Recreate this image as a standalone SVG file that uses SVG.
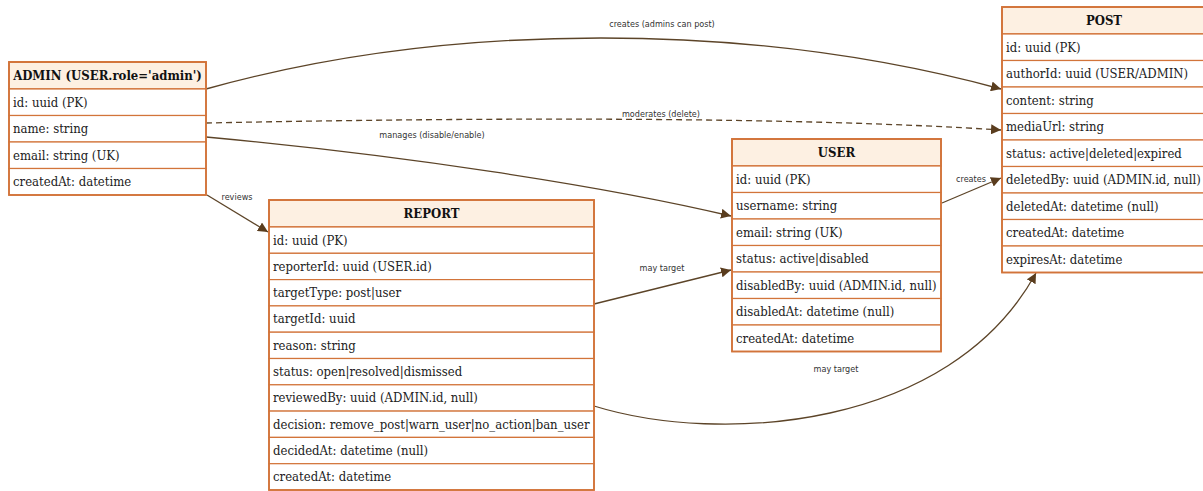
<svg xmlns="http://www.w3.org/2000/svg" width="1203" height="491" viewBox="0 0 1203 491">
<style>
.box{fill:#ffffff;stroke:#d2743a;stroke-width:1.6}
.hdr{fill:#fdf0e2;stroke:#d2743a;stroke-width:1.6}
.row{fill:#ffffff;stroke:#d2743a;stroke-width:1.2}
.t{font-family:"DejaVu Serif Condensed","DejaVu Serif",serif;font-stretch:condensed;font-size:13px;fill:#222}
.h{font-family:"DejaVu Serif Condensed","DejaVu Serif",serif;font-stretch:condensed;font-size:13px;font-weight:bold;fill:#111;text-anchor:middle}
.lbl{font-family:"DejaVu Sans Condensed","DejaVu Sans",sans-serif;font-stretch:condensed;font-size:9px;fill:#333;text-anchor:middle}
.c{fill:none;stroke:#5c4428;stroke-width:1.3}
.d{stroke-dasharray:6 4}
</style>
<defs>
<marker id="ah" viewBox="0 0 10 10" refX="10" refY="5" markerWidth="10" markerHeight="10" markerUnits="userSpaceOnUse" orient="auto">
<path d="M0,0 L10,5 L0,10 z" fill="#5a3d1e"/>
</marker>
</defs>

<g id="connectors">
<path class="c" d="M206,89 C450,21 750,21 1001,89" marker-end="url(#ah)"/>
<path class="c d" d="M206,123 C500,117 800,117 1001,130" marker-end="url(#ah)"/>
<path class="c" d="M206,137 C400,155 600,185 731,216" marker-end="url(#ah)"/>
<path class="c" d="M207,195 L268,232" marker-end="url(#ah)"/>
<path class="c" d="M594,304 L731,270" marker-end="url(#ah)"/>
<path class="c" d="M594,406 C720,445 950,430 1036,273" marker-end="url(#ah)"/>
<path class="c" d="M942,203 L1001,178" marker-end="url(#ah)"/>
<text class="lbl" x="662" y="27">creates (admins can post)</text>
<text class="lbl" x="661" y="117">moderates (delete)</text>
<text class="lbl" x="432" y="138">manages (disable/enable)</text>
<text class="lbl" x="237" y="200">reviews</text>
<text class="lbl" x="971" y="182">creates</text>
<text class="lbl" x="662" y="271">may target</text>
<text class="lbl" x="836" y="372">may target</text>
</g>

<g id="admin">
<rect class="hdr" x="9" y="62" width="197" height="27"/>
<rect class="row" x="9" y="89" width="197" height="26.5"/>
<rect class="row" x="9" y="115.5" width="197" height="26.5"/>
<rect class="row" x="9" y="142" width="197" height="26.5"/>
<rect class="row" x="9" y="168.5" width="197" height="26.5"/>
<rect x="9" y="62" width="197" height="133" fill="none" stroke="#d2743a" stroke-width="1.8"/>
<text class="h" x="107.5" y="80">ADMIN (USER.role='admin')</text>
<text class="t" x="13" y="106.5">id: uuid (PK)</text>
<text class="t" x="13" y="133">name: string</text>
<text class="t" x="13" y="159.5">email: string (UK)</text>
<text class="t" x="13" y="186">createdAt: datetime</text>
</g>

<g id="report">
<rect class="hdr" x="269" y="200" width="325" height="27"/>
<rect class="row" x="269" y="227" width="325" height="26.3"/>
<rect class="row" x="269" y="253.3" width="325" height="26.3"/>
<rect class="row" x="269" y="279.6" width="325" height="26.3"/>
<rect class="row" x="269" y="305.9" width="325" height="26.3"/>
<rect class="row" x="269" y="332.2" width="325" height="26.3"/>
<rect class="row" x="269" y="358.5" width="325" height="26.3"/>
<rect class="row" x="269" y="384.8" width="325" height="26.3"/>
<rect class="row" x="269" y="411.1" width="325" height="26.3"/>
<rect class="row" x="269" y="437.4" width="325" height="26.3"/>
<rect class="row" x="269" y="463.7" width="325" height="26.3"/>
<rect x="269" y="200" width="325" height="290" fill="none" stroke="#d2743a" stroke-width="1.8"/>
<text class="h" x="431.5" y="218">REPORT</text>
<text class="t" x="273" y="244.5">id: uuid (PK)</text>
<text class="t" x="273" y="270.8">reporterId: uuid (USER.id)</text>
<text class="t" x="273" y="297.1">targetType: post|user</text>
<text class="t" x="273" y="323.4">targetId: uuid</text>
<text class="t" x="273" y="349.7">reason: string</text>
<text class="t" x="273" y="376">status: open|resolved|dismissed</text>
<text class="t" x="273" y="402.3">reviewedBy: uuid (ADMIN.id, null)</text>
<text class="t" x="273" y="428.6">decision: remove_post|warn_user|no_action|ban_user</text>
<text class="t" x="273" y="454.9">decidedAt: datetime (null)</text>
<text class="t" x="273" y="481.2">createdAt: datetime</text>
</g>

<g id="user">
<rect class="hdr" x="732" y="139" width="209" height="27"/>
<rect class="row" x="732" y="166" width="209" height="26.5"/>
<rect class="row" x="732" y="192.5" width="209" height="26.5"/>
<rect class="row" x="732" y="219" width="209" height="26.5"/>
<rect class="row" x="732" y="245.5" width="209" height="26.5"/>
<rect class="row" x="732" y="272" width="209" height="26.5"/>
<rect class="row" x="732" y="298.5" width="209" height="26.5"/>
<rect class="row" x="732" y="325" width="209" height="26.5"/>
<rect x="732" y="139" width="209" height="212.5" fill="none" stroke="#d2743a" stroke-width="1.8"/>
<text class="h" x="836.5" y="157">USER</text>
<text class="t" x="736" y="183.5">id: uuid (PK)</text>
<text class="t" x="736" y="210">username: string</text>
<text class="t" x="736" y="236.5">email: string (UK)</text>
<text class="t" x="736" y="263">status: active|disabled</text>
<text class="t" x="736" y="289.5">disabledBy: uuid (ADMIN.id, null)</text>
<text class="t" x="736" y="316">disabledAt: datetime (null)</text>
<text class="t" x="736" y="342.5">createdAt: datetime</text>
</g>

<g id="post">
<rect class="hdr" x="1002" y="7" width="209" height="27"/>
<rect class="row" x="1002" y="34" width="209" height="26.5"/>
<rect class="row" x="1002" y="60.5" width="209" height="26.5"/>
<rect class="row" x="1002" y="87" width="209" height="26.5"/>
<rect class="row" x="1002" y="113.5" width="209" height="26.5"/>
<rect class="row" x="1002" y="140" width="209" height="26.5"/>
<rect class="row" x="1002" y="166.5" width="209" height="26.5"/>
<rect class="row" x="1002" y="193" width="209" height="26.5"/>
<rect class="row" x="1002" y="219.5" width="209" height="26.5"/>
<rect class="row" x="1002" y="246" width="209" height="26.5"/>
<rect x="1002" y="7" width="209" height="265.5" fill="none" stroke="#d2743a" stroke-width="1.8"/>
<text class="h" x="1104" y="25">POST</text>
<text class="t" x="1006" y="51.5">id: uuid (PK)</text>
<text class="t" x="1006" y="78">authorId: uuid (USER/ADMIN)</text>
<text class="t" x="1006" y="104.5">content: string</text>
<text class="t" x="1006" y="131">mediaUrl: string</text>
<text class="t" x="1006" y="157.5">status: active|deleted|expired</text>
<text class="t" x="1006" y="184">deletedBy: uuid (ADMIN.id, null)</text>
<text class="t" x="1006" y="210.5">deletedAt: datetime (null)</text>
<text class="t" x="1006" y="237">createdAt: datetime</text>
<text class="t" x="1006" y="263.5">expiresAt: datetime</text>
</g>
</svg>
